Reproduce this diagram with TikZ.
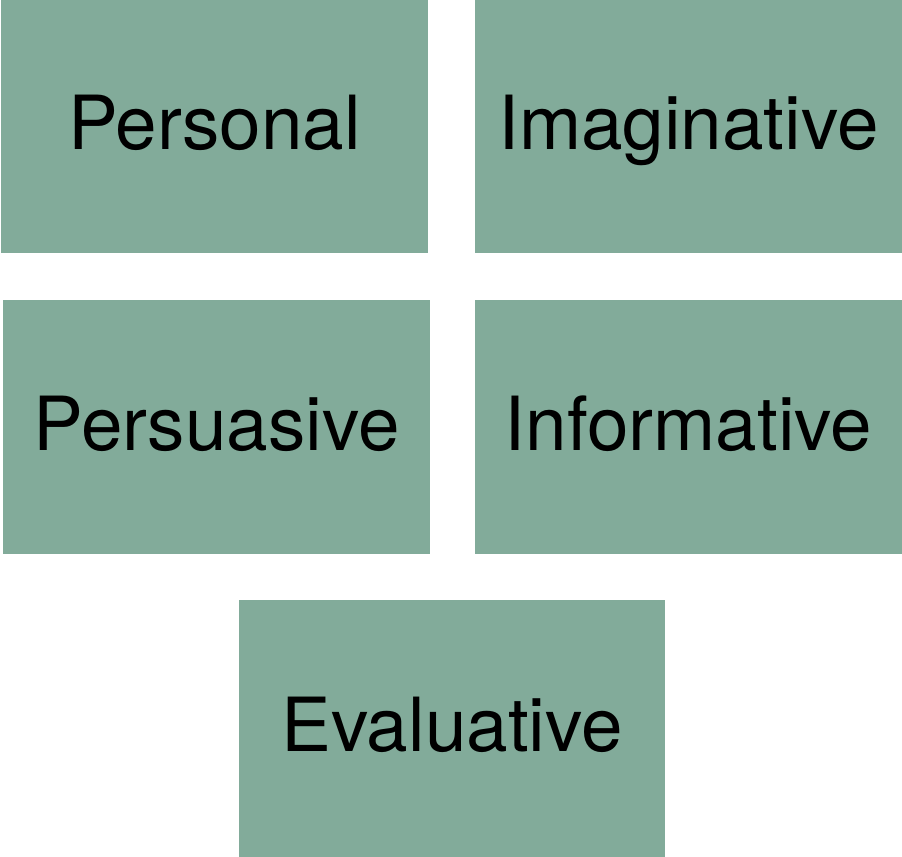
\documentclass[tikz,border=0pt]{standalone}
\usepackage{fontspec}
\setmainfont{TeX Gyre Heros}
\usepackage{xcolor}
\usepackage{tikz}
\usetikzlibrary{positioning}
\definecolor{boxgreen}{HTML}{82AB9A}

\begin{document}
\begin{tikzpicture}[x=0.02cm,y=-0.02cm,
	genre/.style={fill=boxgreen,draw=none,minimum width=8.54cm,minimum height=5.07cm,inner sep=0pt,
		text height=0.94cm,text depth=0pt,font=\fontsize{42.5}{50}\selectfont}]
	\useasboundingbox (0,0) rectangle (902,857);
	\node[genre] (personal) at (214.5,126.5) {Personal};
	\node[genre] (imaginative) at (688.5,126.5) {Imaginative};
	\node[genre] (persuasive) at (216.5,427) {Persuasive};
	\node[genre] (informative) at (688.5,427) {Informative};
	\node[genre,minimum height=5.14cm] (evaluative) at (452,728.5) {Evaluative};
\end{tikzpicture}
\end{document}
